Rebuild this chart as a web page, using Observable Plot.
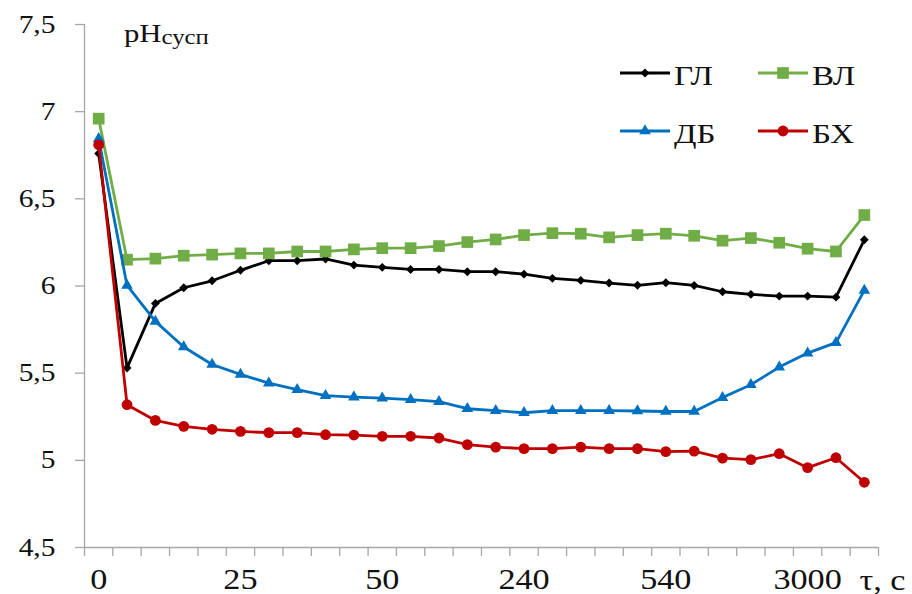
<!DOCTYPE html>
<html><head><meta charset="utf-8">
<script src="https://cdn.jsdelivr.net/npm/d3@7"></script>
<script src="https://cdn.jsdelivr.net/npm/@observablehq/plot@0.6"></script>
<style>
body{margin:0;background:#fff;}
#chart{width:912px;height:594px;}
#chart svg, #chart svg text { font-family: "Liberation Serif", "Times New Roman", serif !important; }
</style></head><body><div id="chart"></div>
<script>
// ---- data ----
const xTickIndex = [0, 5, 10, 15, 20, 25];
const xTickLabels = ["0", "25", "50", "240", "540", "3000"];
const xAxisTitle = "τ, с";
const yTitle = "pH";
const yTitleSub = "сусп";
const yTicks = [4.5, 5, 5.5, 6, 6.5, 7, 7.5];
const seriesNames = ["ГЛ", "ВЛ", "ДБ", "БХ"];
const seriesColors = ["#000000", "#70AD47", "#0070C0", "#C00000"];
const seriesSymbols = ["diamond2", "square", "triangle", "circle"];
const GL = [6.76, 5.53, 5.90, 5.99, 6.03, 6.09, 6.145, 6.145, 6.155, 6.12, 6.107, 6.095, 6.095, 6.082, 6.082, 6.068, 6.044, 6.032, 6.017, 6.004, 6.019, 6.003, 5.967, 5.952, 5.942, 5.942, 5.936, 6.265];
const VL = [6.96, 6.151, 6.157, 6.174, 6.18, 6.187, 6.187, 6.198, 6.198, 6.21, 6.217, 6.217, 6.229, 6.252, 6.267, 6.292, 6.303, 6.30, 6.279, 6.292, 6.30, 6.288, 6.26, 6.275, 6.248, 6.214, 6.198, 6.407];
const DB = [6.845, 6.003, 5.797, 5.65, 5.55, 5.493, 5.443, 5.405, 5.371, 5.363, 5.357, 5.348, 5.337, 5.296, 5.285, 5.273, 5.285, 5.285, 5.285, 5.283, 5.28, 5.28, 5.36, 5.434, 5.535, 5.615, 5.675, 5.975];
const BX = [6.81, 5.319, 5.229, 5.195, 5.178, 5.166, 5.159, 5.159, 5.147, 5.145, 5.138, 5.138, 5.128, 5.09, 5.076, 5.067, 5.067, 5.076, 5.067, 5.067, 5.05, 5.053, 5.013, 5.004, 5.038, 4.958, 5.015, 4.874];

const seriesValues = [GL, VL, DB, BX];
const markerR = [4.0, 6.6, 4.3, 5.4];
const nCat = GL.length;
const stretch = 1.18; // the reference type is horizontally stretched

const series = seriesNames.map((name, k) => ({
  name, color: seriesColors[k], symbol: seriesSymbols[k], r: markerR[k],
  data: seriesValues[k].map((v, i) => ({i, v}))
}));

const gray = "#a6a6a6";
const boundaries = d3.range(-0.5, nCat, 1);

const marks = [
  Plot.ruleX([-0.5], {stroke: gray, strokeWidth: 1.3}),
  Plot.ruleY([4.5], {stroke: gray, strokeWidth: 1.3}),
  Plot.axisY({ticks: yTicks, tickSize: 9, tickPadding: 20, stroke: gray, strokeWidth: 1.3, fill: "#111",
    fontSize: 25, tickFormat: d => String(d).replace(".", ","), label: null}),
  Plot.axisX({ticks: boundaries, tickSize: 9, stroke: gray, strokeWidth: 1.3, tickFormat: () => "", label: null}),
  Plot.axisX({ticks: xTickIndex, tickSize: 0, tickPadding: 21, fill: "#111", fontSize: 29,
    tickFormat: d => xTickLabels[xTickIndex.indexOf(d)], label: null}),
  Plot.text([xAxisTitle], {frameAnchor: "bottom-right", textAnchor: "end", lineAnchor: "bottom",
    dx: 27, dy: 42, fontSize: 29, fill: "#111"})
];
for (const s of series) {
  marks.push(Plot.line(s.data, {x: "i", y: "v", stroke: s.color, strokeWidth: 2.8}));
  marks.push(Plot.dot(s.data, {x: "i", y: "v", symbol: s.symbol, r: s.r, fill: s.color, stroke: "none"}));
}

const plot = Plot.plot({
  width: 912, height: 594,
  marginLeft: 84, marginRight: 34, marginTop: 24, marginBottom: 47,
  style: {background: "#fff", color: "#111"},
  x: {domain: [-0.5, nCat - 0.5]},
  y: {domain: [4.5, 7.5]},
  marks
});

const svg = d3.select(plot);
// stretch every text horizontally about its own anchor point
svg.selectAll("text").each(function() {
  let tx = 0, ty = 0;
  const xa = this.getAttribute("x"), ya = this.getAttribute("y");
  if (xa !== null && isFinite(+xa)) { tx = +xa; this.removeAttribute("x"); }
  if (ya !== null && isFinite(+ya)) { ty = +ya; this.removeAttribute("y"); }
  const tr = this.getAttribute("transform") || "";
  this.setAttribute("transform", `${tr} translate(${tx},${ty}) scale(${stretch},1)`.trim());
});

// title pH_сусп
const t = svg.append("text").attr("transform", `translate(124,42) scale(${stretch},1)`)
  .attr("text-anchor", "start").attr("fill", "#111");
t.append("tspan").attr("font-size", 26).text(yTitle);
t.append("tspan").attr("font-size", 21).attr("dy", 2).text(yTitleSub);

// legend
const symMap = {diamond2: d3.symbolDiamond2, square: d3.symbolSquare, triangle: d3.symbolTriangle, circle: d3.symbolCircle};
const legendPos = [[620, 73], [758, 73], [620, 131], [758, 131]];
series.forEach((s, k) => {
  const [x0, y0] = legendPos[k];
  const g = svg.append("g").attr("transform", `translate(${x0},${y0})`);
  g.append("line").attr("x1", 0).attr("x2", 50).attr("y1", 0).attr("y2", 0)
    .attr("stroke", s.color).attr("stroke-width", 2.8);
  g.append("path").attr("transform", "translate(25,0)")
    .attr("d", d3.symbol(symMap[s.symbol], Math.PI * s.r * s.r)()).attr("fill", s.color);
  g.append("text").attr("transform", `translate(54,2) scale(${stretch},1)`).attr("dy", "0.35em")
    .attr("text-anchor", "start").attr("font-size", 28).attr("fill", "#111").text(s.name);
});

document.getElementById("chart").appendChild(plot);
</script>
</body></html>
